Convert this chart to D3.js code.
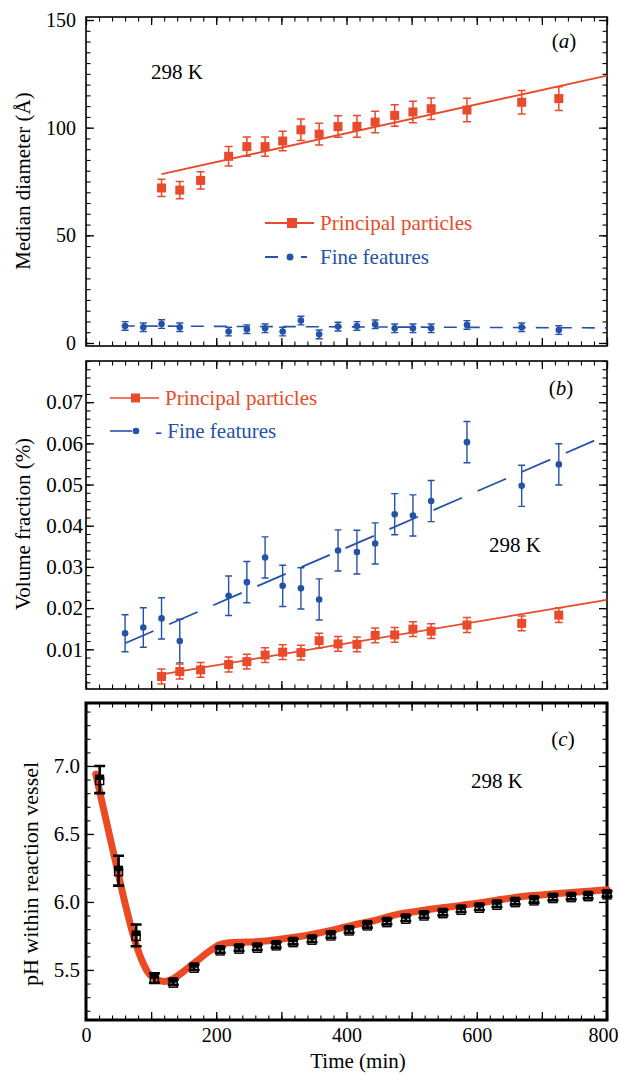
<!DOCTYPE html>
<html>
<head>
<meta charset="utf-8">
<script src="https://cdn.jsdelivr.net/npm/d3@7"></script>
<style>
  body { margin: 0; background: #fff; }
  text { font-family: "Liberation Serif", "Times New Roman", serif; }
</style>
</head>
<body>
<script>
// ---- data ----
var principalTime = [116, 144, 176, 219, 247, 275, 302, 330, 358, 387, 416, 444, 474, 502, 530, 585, 669, 726];
var fineTime = [60, 88, 116, 144, 219, 247, 275, 302, 330, 358, 387, 416, 444, 474, 502, 530, 585, 669, 726];

// (a) median diameter, Angstrom
var diamPrincipal = [72, 71, 75.5, 86.7, 91.2, 91.2, 93.8, 99, 97, 100.5, 100.6, 102.6, 105.7, 107.3, 108.8, 108.2, 111.8, 113.5];
var diamPrincipalErr = [4, 4, 4, 4.5, 4.5, 4.5, 4.5, 5, 5, 5, 5, 5, 5, 5, 5, 5.5, 5.5, 5.5];
var diamFine = [7.9, 7.3, 8.8, 7.3, 5.3, 6.4, 6.8, 5.3, 10.4, 4.0, 7.6, 7.9, 8.7, 6.8, 6.8, 6.8, 8.4, 7.3, 6.0];
var diamFineErr = [2, 2, 2, 2, 2, 2, 2, 2, 2, 2, 2, 2, 2, 2, 2, 2, 2, 2, 2];
var diamPrincipalFit = [[116, 78.4], [800, 124.2]];
var diamFineFit = [[55, 7.9], [800, 7.0]];

// (b) volume fraction, %
var volPrincipal = [0.0034, 0.0046, 0.0050, 0.0063, 0.0070, 0.0086, 0.0093, 0.0092, 0.0121, 0.0113, 0.0112, 0.0134, 0.0135, 0.0149, 0.0144, 0.0159, 0.0163, 0.0183];
var volPrincipalErr = [0.0018, 0.0018, 0.0018, 0.0018, 0.0018, 0.0018, 0.0018, 0.0018, 0.0018, 0.0018, 0.0018, 0.0018, 0.0018, 0.0018, 0.0018, 0.0018, 0.0018, 0.0018];
var volFine = [0.0139, 0.0153, 0.0175, 0.0120, 0.0230, 0.0263, 0.0323, 0.0254, 0.0248, 0.0221, 0.0340, 0.0336, 0.0357, 0.0428, 0.0425, 0.0460, 0.0603, 0.0497, 0.0549];
var volFineErr = [0.0045, 0.0048, 0.005, 0.0053, 0.0048, 0.005, 0.005, 0.005, 0.005, 0.005, 0.005, 0.0053, 0.005, 0.005, 0.005, 0.005, 0.005, 0.005, 0.005];
var volPrincipalFit = [[116, 0.0039], [800, 0.0220]];
var volFineFit = [[60, 0.01146], [800, 0.0620]];

// (c) pH
var phTime = [21, 50, 77, 105, 134, 166, 206, 235, 263, 292, 318, 347, 376, 404, 432, 462, 491, 519, 548, 576, 604, 631, 659, 688, 717, 745, 771, 800];
var phValue = [6.90, 6.23, 5.754, 5.44, 5.41, 5.52, 5.647, 5.66, 5.667, 5.684, 5.708, 5.726, 5.757, 5.794, 5.831, 5.855, 5.880, 5.904, 5.921, 5.946, 5.961, 5.983, 6.002, 6.015, 6.032, 6.039, 6.046, 6.059];
var phErr = [0.10, 0.11, 0.08, 0.035, 0.02, 0.02, 0.02, 0.02, 0.02, 0.02, 0.02, 0.02, 0.02, 0.02, 0.02, 0.02, 0.02, 0.02, 0.02, 0.02, 0.02, 0.02, 0.02, 0.02, 0.02, 0.02, 0.02, 0.02];
var modelTime = [15, 30, 48, 60, 73, 85, 97, 108, 120, 132, 150, 170, 190, 205, 220, 250, 280, 320, 350, 380, 410, 440, 480, 520, 560, 600, 640, 680, 720, 760, 800];
var modelPH = [6.94, 6.62, 6.24, 5.99, 5.75, 5.58, 5.47, 5.43, 5.415, 5.43, 5.49, 5.565, 5.64, 5.685, 5.70, 5.705, 5.715, 5.74, 5.765, 5.795, 5.83, 5.86, 5.91, 5.94, 5.965, 5.99, 6.02, 6.045, 6.06, 6.075, 6.09];

var xLabels = [0, 200, 400, 600, 800];

var red = "#e84a2b", blue = "#2452a8", band = "#ec4a24";

var svg = d3.select("body").append("svg")
    .attr("width", 620)
    .attr("height", 1074)
    .attr("font-family", "Liberation Serif, serif");

var x = d3.scaleLinear().domain([0, 800]).range([86, 607]);
var xMinor = d3.range(0, 801, 20),
    xMajor = d3.range(0, 801, 100);

// frame with inward ticks on all four sides
function frame(top, bottom, yDomain, yMinor, yMajor, fmt, labelSize, pad, frameWidth) {
  var y = d3.scaleLinear().domain(yDomain).range([bottom, top]);
  var g = svg.append("g");
  var sides = [
    [function() { return d3.axisLeft(y); }, "translate(" + x.range()[0] + ",0)", yMinor, yMajor],
    [function() { return d3.axisRight(y); }, "translate(" + x.range()[1] + ",0)", yMinor, yMajor],
    [function() { return d3.axisTop(x); }, "translate(0," + top + ")", xMinor, xMajor],
    [function() { return d3.axisBottom(x); }, "translate(0," + bottom + ")", xMinor, xMajor]
  ];
  sides.forEach(function(s) {
    g.append("g").attr("transform", s[1])
        .call(s[0]().tickValues(s[2]).tickSize(-4.5).tickFormat(""))
        .call(function(a) { a.select(".domain").remove(); a.selectAll("line").attr("stroke-width", 1.1); });
    g.append("g").attr("transform", s[1])
        .call(s[0]().tickValues(s[3]).tickSize(-8).tickFormat(""))
        .call(function(a) { a.select(".domain").remove(); a.selectAll("line").attr("stroke-width", 1.3); });
  });
  g.append("rect")
      .attr("x", x.range()[0]).attr("y", top)
      .attr("width", x.range()[1] - x.range()[0]).attr("height", bottom - top)
      .attr("fill", "none").attr("stroke", "#000").attr("stroke-width", frameWidth);
  // y tick labels
  g.append("g").attr("transform", "translate(" + x.range()[0] + ",0)")
      .call(d3.axisLeft(y).tickValues(yMajor).tickSize(0).tickPadding(pad).tickFormat(fmt))
      .call(function(a) {
        a.attr("font-family", null);
        a.select(".domain").remove();
        a.selectAll("text").attr("font-size", labelSize).attr("fill", "#000");
      });
  return {g: g, y: y};
}

function errorBars(g, xs, ys, es, y, color, cap, width) {
  g.selectAll(null).data(xs).enter().append("path")
      .attr("d", function(d, i) {
        var cx = x(d), t = y(ys[i] + es[i]), b = y(ys[i] - es[i]);
        return "M" + (cx - cap / 2) + "," + t + "H" + (cx + cap / 2) +
               "M" + cx + "," + t + "V" + b +
               "M" + (cx - cap / 2) + "," + b + "H" + (cx + cap / 2);
      })
      .attr("fill", "none").attr("stroke", color).attr("stroke-width", width);
}

function yLabel(text, cx, cy, size) {
  svg.append("text")
      .attr("transform", "translate(" + cx + "," + cy + ") rotate(-90)")
      .attr("text-anchor", "middle").attr("dy", "0.35em")
      .attr("font-size", size).text(text);
}

function note(g, text, px, py) {
  g.append("text").attr("x", px).attr("y", py).attr("dy", "0.35em")
      .attr("font-size", 21).text(text);
}

function tag(g, letter, px, py) {
  var t = g.append("text").attr("x", px).attr("y", py).attr("dy", "0.35em")
      .attr("text-anchor", "middle").attr("font-size", 21);
  t.append("tspan").text("(");
  t.append("tspan").attr("font-style", "italic").text(letter);
  t.append("tspan").text(")");
}

var line = d3.line().x(function(d) { return x(d[0]); });

// ---------------- panel (a) ----------------
var A = frame(17, 346, [-1.4, 151.4], d3.range(0, 151, 5), [0, 50, 100, 150], d3.format("d"), 20, 10, 1.6);

A.g.append("path").datum(diamFineFit)
    .attr("d", line.y(function(d) { return A.y(d[1]); }))
    .attr("fill", "none").attr("stroke", blue).attr("stroke-width", 1.6)
    .attr("stroke-dasharray", "13,10");
errorBars(A.g, fineTime, diamFine, diamFineErr, A.y, blue, 7, 1.4);
A.g.selectAll(".fine").data(fineTime).enter().append("circle")
    .attr("cx", function(d) { return x(d); })
    .attr("cy", function(d, i) { return A.y(diamFine[i]); })
    .attr("r", 3.3).attr("fill", blue);

A.g.append("path").datum(diamPrincipalFit)
    .attr("d", line.y(function(d) { return A.y(d[1]); }))
    .attr("fill", "none").attr("stroke", red).attr("stroke-width", 1.8);
errorBars(A.g, principalTime, diamPrincipal, diamPrincipalErr, A.y, red, 8, 1.5);
A.g.selectAll(".princ").data(principalTime).enter().append("rect")
    .attr("x", function(d) { return x(d) - 4.5; })
    .attr("y", function(d, i) { return A.y(diamPrincipal[i]) - 4.5; })
    .attr("width", 9).attr("height", 9).attr("fill", red);

// legend (a)
A.g.append("line").attr("x1", 265).attr("x2", 314).attr("y1", 223).attr("y2", 223)
    .attr("stroke", red).attr("stroke-width", 1.8);
A.g.append("rect").attr("x", 287).attr("y", 218).attr("width", 10).attr("height", 10).attr("fill", red);
A.g.append("text").attr("x", 320).attr("y", 223).attr("dy", "0.35em")
    .attr("font-size", 21).attr("fill", red).text("Principal particles");
A.g.append("path").attr("d", "M265,257H278M301,257H307")
    .attr("stroke", blue).attr("stroke-width", 1.8);
A.g.append("circle").attr("cx", 290).attr("cy", 257).attr("r", 3.5).attr("fill", blue);
A.g.append("text").attr("x", 320).attr("y", 257).attr("dy", "0.35em")
    .attr("font-size", 21).attr("fill", blue).text("Fine features");
note(A.g, "298 K", 151, 72);
tag(A.g, "a", 564, 41);
yLabel("Median diameter (\u00c5)", 23, 181, 21);

// ---------------- panel (b) ----------------
var B = frame(361, 689, [0.00036, 0.0800], d3.range(0.002, 0.0801, 0.002), [0.01, 0.02, 0.03, 0.04, 0.05, 0.06, 0.07], d3.format(".2f"), 21, 3, 1.6);

B.g.append("path").datum(volFineFit)
    .attr("d", line.y(function(d) { return B.y(d[1]); }))
    .attr("fill", "none").attr("stroke", blue).attr("stroke-width", 1.8)
    .attr("stroke-dasharray", "31,17");
errorBars(B.g, fineTime, volFine, volFineErr, B.y, blue, 7, 1.4);
B.g.selectAll(".fine").data(fineTime).enter().append("circle")
    .attr("cx", function(d) { return x(d); })
    .attr("cy", function(d, i) { return B.y(volFine[i]); })
    .attr("r", 3.3).attr("fill", blue);

B.g.append("path").datum(volPrincipalFit)
    .attr("d", line.y(function(d) { return B.y(d[1]); }))
    .attr("fill", "none").attr("stroke", red).attr("stroke-width", 1.8);
errorBars(B.g, principalTime, volPrincipal, volPrincipalErr, B.y, red, 8, 1.5);
B.g.selectAll(".princ").data(principalTime).enter().append("rect")
    .attr("x", function(d) { return x(d) - 4.5; })
    .attr("y", function(d, i) { return B.y(volPrincipal[i]) - 4.5; })
    .attr("width", 9).attr("height", 9).attr("fill", red);

// legend (b)
B.g.append("line").attr("x1", 110).attr("x2", 159).attr("y1", 398).attr("y2", 398)
    .attr("stroke", red).attr("stroke-width", 1.6);
B.g.append("rect").attr("x", 131).attr("y", 393.5).attr("width", 9).attr("height", 9).attr("fill", red);
B.g.append("text").attr("x", 165).attr("y", 398).attr("dy", "0.35em")
    .attr("font-size", 21).attr("fill", red).text("Principal particles");
B.g.append("line").attr("x1", 110).attr("x2", 132).attr("y1", 431).attr("y2", 431)
    .attr("stroke", blue).attr("stroke-width", 1.6);
B.g.append("circle").attr("cx", 136).attr("cy", 431).attr("r", 3.3).attr("fill", blue);
B.g.append("text").attr("x", 155).attr("y", 431).attr("dy", "0.35em")
    .attr("font-size", 21).attr("fill", blue).text("- Fine features");
note(B.g, "298 K", 489, 545);
tag(B.g, "b", 561, 388);
yLabel("Volume fraction (%)", 23, 524, 21);

// ---------------- panel (c) ----------------
var C = frame(703, 1020, [5.132, 7.463], d3.range(5.2, 7.45, 0.1), [5.5, 6.0, 6.5, 7.0], d3.format(".1f"), 21, 6, 3);

C.g.append("path").datum(d3.zip(modelTime, modelPH))
    .attr("d", d3.line().curve(d3.curveCatmullRom)
        .x(function(d) { return x(d[0]); })
        .y(function(d) { return C.y(d[1]); }))
    .attr("fill", "none").attr("stroke", band).attr("stroke-width", 7)
    .attr("stroke-linecap", "round").attr("stroke-linejoin", "round");

errorBars(C.g, phTime, phValue, phErr, C.y, "#000", 11, 2.6);
C.g.selectAll(".ph-open").data(phTime).enter().append("rect")
    .attr("x", function(d) { return x(d) - 4; })
    .attr("y", function(d, i) { return C.y(phValue[i]) - 2; })
    .attr("width", 8).attr("height", 7)
    .attr("fill", "none").attr("stroke", "#000").attr("stroke-width", 1.4);
C.g.selectAll(".ph-fill").data(phTime).enter().append("rect")
    .attr("x", function(d) { return x(d) - 4.5; })
    .attr("y", function(d, i) { return C.y(phValue[i]) - 5; })
    .attr("width", 9).attr("height", 5.5).attr("fill", "#000");

note(C.g, "298 K", 471, 781);
tag(C.g, "c", 563, 739);
yLabel("pH within reaction vessel", 30, 874, 22);

// x tick labels and title (bottom panel only)
svg.append("g").attr("transform", "translate(0,1020)")
    .call(d3.axisBottom(x).tickValues(xLabels).tickSize(0).tickPadding(8).tickFormat(d3.format("d")))
    .call(function(a) {
      a.attr("font-family", null);
      a.select(".domain").remove();
      a.selectAll("text").attr("font-size", 20).attr("fill", "#000")
          .attr("dx", function(d) { return d === 800 ? -4 : 0; });
    });
svg.append("text").attr("x", 358).attr("y", 1061).attr("dy", "0.35em")
    .attr("text-anchor", "middle").attr("font-size", 21).text("Time (min)");
</script>
</body>
</html>
